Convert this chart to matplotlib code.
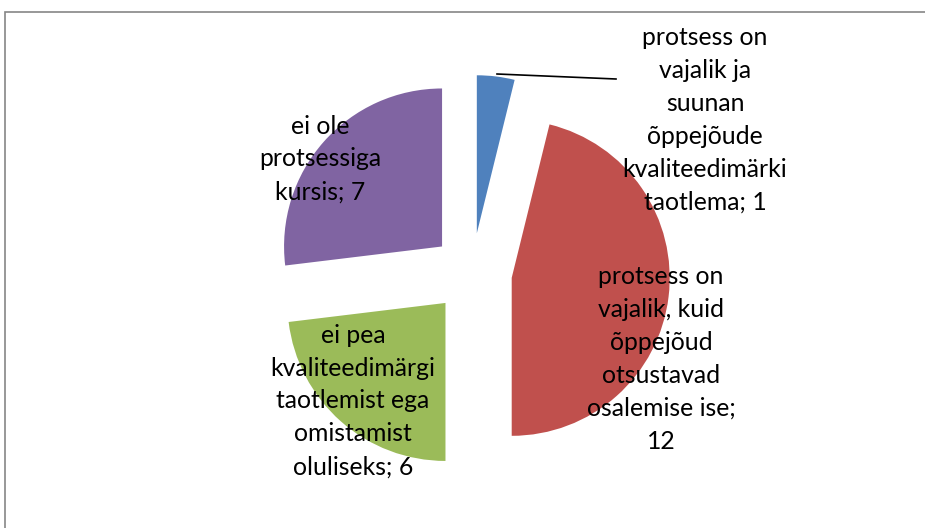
import matplotlib
matplotlib.use('Agg')
from matplotlib import pyplot as plt
from matplotlib.patches import Rectangle

plt.rcParams['font.family'] = ['Lato', 'DejaVu Sans']

# andmed
categories = ['protsess on\nvajalik ja\nsuunan\nõppejõude\nkvaliteedimärki\ntaotlema',
              'protsess on\nvajalik, kuid\nõppejõud\notsustavad\nosalemise ise;\n',
              'ei pea\nkvaliteedimärgi\ntaotlemist ega\nomistamist\noluliseks',
              'ei ole\nprotsessiga\nkursis']
values = [1, 12, 6, 7]
colors = ['#4F81BD', '#C0504D', '#9BBB59', '#8064A2']

W, H = 925, 528
fig = plt.figure(figsize=(W / 100, H / 100), dpi=100)
ax = fig.add_axes([0, 0, 1, 1])

cx, cy, r = 472, H - 273, 158
# explode on matplotlibis andmeühikutes (pikslites)
ax.pie(values, colors=colors, startangle=90, counterclock=False,
       explode=[40] * 4, radius=r, center=(cx, cy),
       wedgeprops=dict(linewidth=0))

ax.set_xlim(0, W)
ax.set_ylim(0, H)
ax.set_aspect('auto')
ax.axis('off')

# sildid (pikslites, ülevalt mõõdetud)
label_pos = [(705, 120), (661, 359), (353, 401), (320, 159)]
for cat, val, (lx, ly) in zip(categories, values, label_pos):
    if cat.endswith('\n'):
        txt = cat + str(val)
    else:
        txt = cat + '; ' + str(val)
    ax.text(lx, H - ly, txt, ha='center', va='center', fontsize=17.8,
            linespacing=1.52, color='black')

# juhtjoon sinisele sektorile
ax.plot([497, 616], [H - 74, H - 79], color='black', linewidth=1.2)

# diagrammi raam
ax.add_patch(Rectangle((4.5, -5), W + 10, H - 11.5 + 5, fill=False,
                       edgecolor='#868686', linewidth=1.2, clip_on=False))

fig.savefig('out.png', dpi=100)
